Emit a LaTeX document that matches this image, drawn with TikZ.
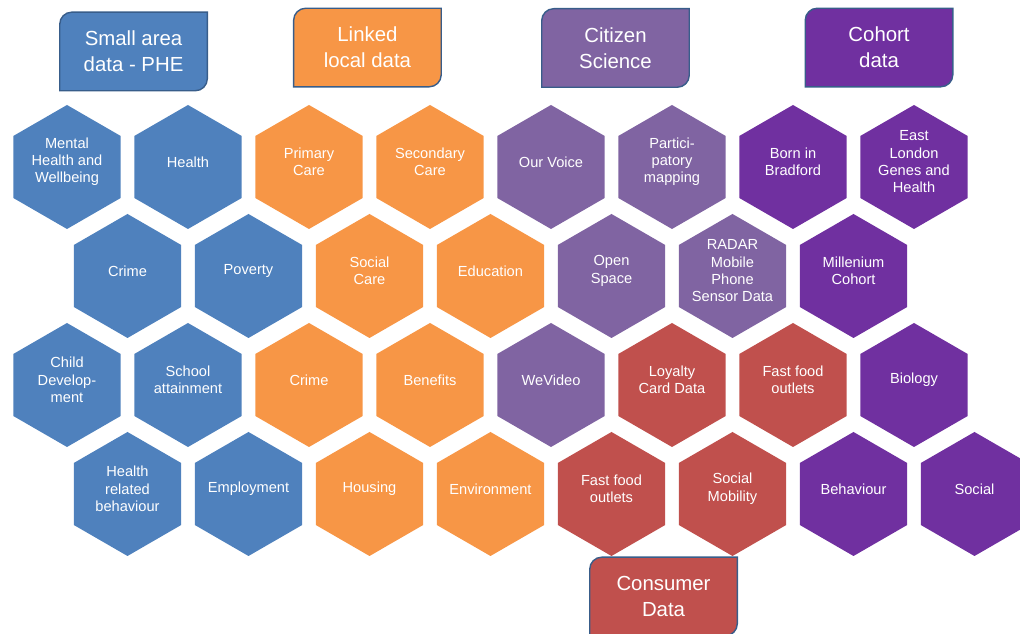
\documentclass[tikz,border=0pt]{standalone}
\usepackage{fontspec}
\setsansfont{Liberation Sans}
\usetikzlibrary{shapes.geometric,backgrounds}

\definecolor{areablue}{HTML}{4F81BD}
\definecolor{linkorange}{HTML}{F79646}
\definecolor{citizenpurple}{HTML}{8064A2}
\definecolor{consumerred}{HTML}{C0504D}
\definecolor{cohortpurple}{HTML}{7030A0}
\definecolor{frameblue}{HTML}{385D8A}

\tikzset{
	hex/.style={regular polygon, regular polygon sides=6, shape border rotate=90,
		minimum size=3.1cm, inner sep=0pt},
	hextext/.style={text=white, align=center, inner sep=0pt,
		font=\sffamily\fontsize{10.4}{12.4}\selectfont},
	headtext/.style={text=white, align=center, inner sep=0pt,
		minimum width=3.675cm, minimum height=1.95cm,
		font=\sffamily\fontsize{14.5}{18.5}\selectfont},
	headframe/.style={draw=frameblue, line width=1pt},
}

% one honeycomb cell: name, centre, colour, text
\newcommand{\hexcell}[4]{%
	\node[hex, fill=#3] (#1) at (#2) {};
	\node[hextext] (#1-text) at ([yshift=1.3mm]#1.center) {#4};
}
% one heading box, rounded at top left and bottom right
\newcommand{\headbox}[4]{%
	\node[headtext] (#1) at (#2) {#4};
	\begin{scope}[on background layer]
		\draw[headframe, fill=#3] (#1.south west) -- ([yshift=-3mm]#1.north west)
			arc[start angle=180, end angle=90, radius=3mm] -- (#1.north east)
			-- ([yshift=3mm]#1.south east)
			arc[start angle=0, end angle=-90, radius=3mm] -- cycle;
	\end{scope}
}

\begin{document}
\begin{tikzpicture}[x=3.025cm, y=2.725cm]
	\useasboundingbox (-0.5537,1.532) rectangle (7.876,-4.284);

	% headings
	\headbox{area}{0.55,1.06}{areablue}{Small area\\data - PHE}
	\headbox{linked}{2.483,1.096}{linkorange}{Linked\\local data}
	\headbox{citizen}{4.533,1.092}{citizenpurple}{Citizen\\Science}
	\headbox{cohort}{6.711,1.096}{cohortpurple}{Cohort\\data}
	\headbox{consumer}{4.93,-3.94}{consumerred}{Consumer\\Data}

	% first row
	\hexcell{mental}{0,0}{areablue}{Mental\\Health and\\Wellbeing}
	\hexcell{health}{1,0}{areablue}{Health}
	\hexcell{primary}{2,0}{linkorange}{Primary\\Care}
	\hexcell{secondary}{3,0}{linkorange}{Secondary\\Care}
	\hexcell{ourvoice}{4,0}{citizenpurple}{Our Voice}
	\hexcell{mapping}{5,0}{citizenpurple}{Partici-\\patory\\mapping}
	\hexcell{bradford}{6,0}{cohortpurple}{Born in\\Bradford}
	\hexcell{eastlondon}{7,0}{cohortpurple}{East\\London\\Genes and\\Health}

	% second row
	\hexcell{crimea}{0.5,-1}{areablue}{Crime}
	\hexcell{poverty}{1.5,-1}{areablue}{Poverty}
	\hexcell{socialcare}{2.5,-1}{linkorange}{Social\\Care}
	\hexcell{education}{3.5,-1}{linkorange}{Education}
	\hexcell{openspace}{4.5,-1}{citizenpurple}{Open\\Space}
	\hexcell{radar}{5.5,-1}{citizenpurple}{RADAR\\Mobile\\Phone\\Sensor Data}
	\hexcell{millenium}{6.5,-1}{cohortpurple}{Millenium\\Cohort}

	% third row
	\hexcell{childdev}{0,-2}{areablue}{Child\\Develop-\\ment}
	\hexcell{school}{1,-2}{areablue}{School\\attainment}
	\hexcell{crimeb}{2,-2}{linkorange}{Crime}
	\hexcell{benefits}{3,-2}{linkorange}{Benefits}
	\hexcell{wevideo}{4,-2}{citizenpurple}{WeVideo}
	\hexcell{loyalty}{5,-2}{consumerred}{Loyalty\\Card Data}
	\hexcell{fastfooda}{6,-2}{consumerred}{Fast food\\outlets}
	\hexcell{biology}{7,-2}{cohortpurple}{Biology}

	% fourth row
	\hexcell{healthbeh}{0.5,-3}{areablue}{Health\\related\\behaviour}
	\hexcell{employment}{1.5,-3}{areablue}{Employment}
	\hexcell{housing}{2.5,-3}{linkorange}{Housing}
	\hexcell{environment}{3.5,-3}{linkorange}{Environment}
	\hexcell{fastfoodb}{4.5,-3}{consumerred}{Fast food\\outlets}
	\hexcell{mobility}{5.5,-3}{consumerred}{Social\\Mobility}
	\hexcell{behaviour}{6.5,-3}{cohortpurple}{Behaviour}
	\hexcell{social}{7.5,-3}{cohortpurple}{Social}
\end{tikzpicture}
\end{document}
